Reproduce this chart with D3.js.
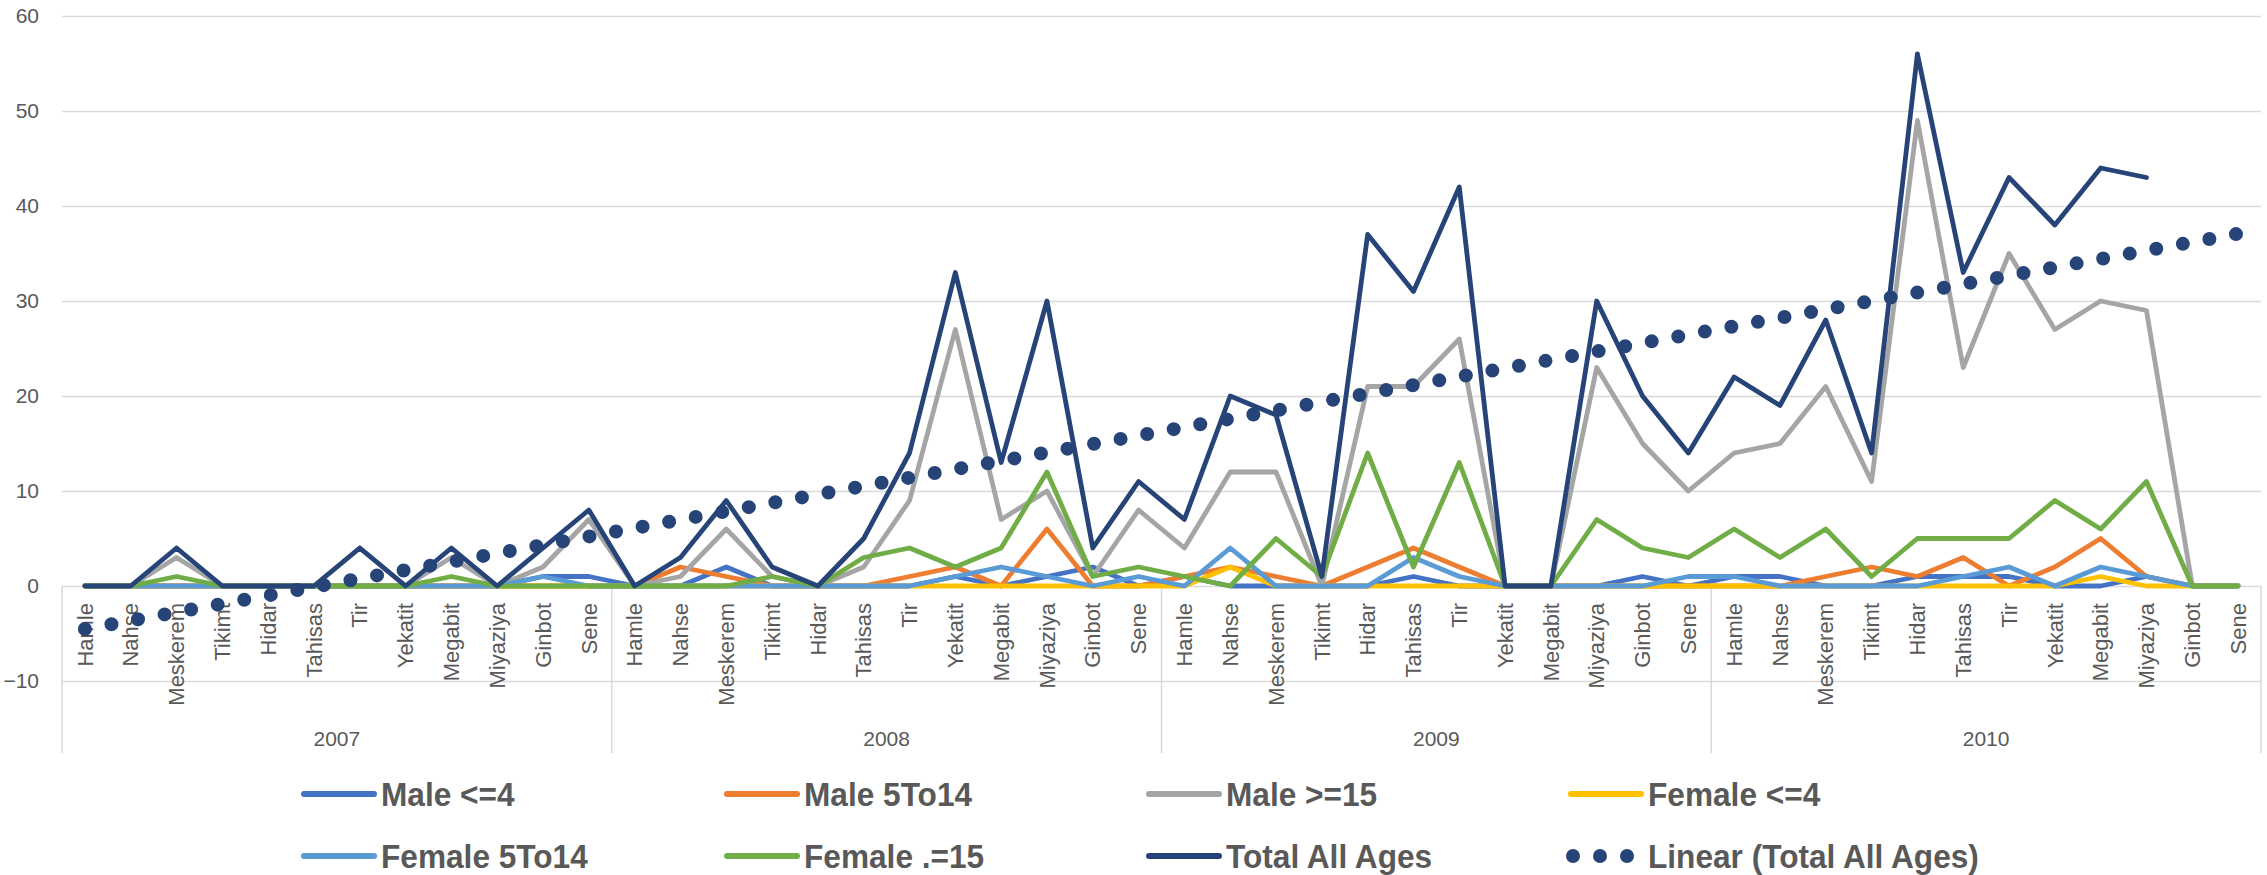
<!DOCTYPE html>
<html>
<head>
<meta charset="utf-8">
<script src="https://cdn.jsdelivr.net/npm/d3@7"></script>
<style>
  body { margin: 0; background: #fff; }
  text { font-family: "Liberation Sans", Arial, sans-serif; fill: #595959; }
</style>
</head>
<body>
<div id="chart"></div>
<script>
const width = 2267;
const height = 875;

// categories
const years = ["2007", "2008", "2009", "2010"];
const months = ["Hamle", "Nahse", "Meskerem", "Tikimt", "Hidar", "Tahisas",
  "Tir", "Yekatit", "Megabit", "Miyaziya", "Ginbot", "Sene"];
const yTicks = [-10, 0, 10, 20, 30, 40, 50, 60];

// series values, 48 months each (2007 Hamle .. 2010 Sene)
const maleU4 = [
  0, 0, 0, 0, 0, 0, 0, 0, 0, 0, 1, 1,
  0, 0, 2, 0, 0, 0, 0, 1, 0, 1, 2, 0,
  1, 0, 0, 0, 0, 1, 0, 0, 0, 0, 1, 0,
  1, 1, 0, 0, 1, 1, 1, 0, 0, 1, 0, 0];
const male5to14 = [
  0, 0, 0, 0, 0, 0, 0, 0, 0, 0, 0, 0,
  0, 2, 1, 0, 0, 0, 1, 2, 0, 6, 0, 0,
  1, 2, 1, 0, 2, 4, 2, 0, 0, 0, 0, 0,
  0, 0, 1, 2, 1, 3, 0, 2, 5, 1, 0, 0];
const maleO15 = [
  0, 0, 3, 0, 0, 0, 4, 0, 3, 0, 2, 7,
  0, 1, 6, 1, 0, 2, 9, 27, 7, 10, 1, 8,
  4, 12, 12, 0, 21, 21, 26, 0, 0, 23, 15, 10,
  14, 15, 21, 11, 49, 23, 35, 27, 30, 29, 0, 0];
const femaleU4 = [
  0, 0, 0, 0, 0, 0, 0, 0, 0, 0, 0, 0,
  0, 0, 0, 0, 0, 0, 0, 0, 0, 0, 0, 0,
  0, 2, 0, 0, 0, 0, 0, 0, 0, 0, 0, 0,
  0, 0, 0, 0, 0, 0, 0, 0, 1, 0, 0, 0];
const female5to14 = [
  0, 0, 0, 0, 0, 0, 0, 0, 0, 0, 1, 0,
  0, 0, 0, 0, 0, 0, 0, 1, 2, 1, 0, 1,
  0, 4, 0, 0, 0, 3, 1, 0, 0, 0, 0, 1,
  1, 0, 0, 0, 0, 1, 2, 0, 2, 1, 0, 0];
const femaleO15 = [
  0, 0, 1, 0, 0, 0, 0, 0, 1, 0, 0, 0,
  0, 0, 0, 1, 0, 3, 4, 2, 4, 12, 1, 2,
  1, 0, 5, 1, 14, 2, 13, 0, 0, 7, 4, 3,
  6, 3, 6, 1, 5, 5, 5, 9, 6, 11, 0, 0];
const totalAll = [
  0, 0, 4, 0, 0, 0, 4, 0, 4, 0, 4, 8,
  0, 3, 9, 2, 0, 5, 14, 33, 13, 30, 4, 11,
  7, 20, 18, 1, 37, 31, 42, 0, 0, 30, 20, 14,
  22, 19, 28, 14, 56, 33, 43, 38, 44, 43, null, null];

const series = [
  { name: "Male <=4", values: maleU4, color: "#4472C4" },
  { name: "Male 5To14", values: male5to14, color: "#ED7D31" },
  { name: "Male >=15", values: maleO15, color: "#A5A5A5" },
  { name: "Female <=4", values: femaleU4, color: "#FFC000" },
  { name: "Female 5To14", values: female5to14, color: "#5B9BD5" },
  { name: "Female .=15", values: femaleO15, color: "#70AD47" },
  { name: "Total All Ages", values: totalAll, color: "#264478" }
];

const keys = [];
years.forEach(y => months.forEach(m => keys.push(y + "|" + m)));

const svg = d3.select("#chart").append("svg")
  .attr("width", width)
  .attr("height", height);

const left = 62, right = 2261;
const x = d3.scaleBand().domain(keys).range([left, right]).padding(0);
const y = d3.scaleLinear().domain([-10, 60]).range([681, 16]);
const cx = i => x(keys[i]) + x.bandwidth() / 2;

// gridlines + y labels
const yAxis = svg.append("g")
  .attr("transform", `translate(${left},0)`)
  .call(d3.axisLeft(y).tickValues(yTicks).tickSize(-(right - left)).tickPadding(23));
yAxis.select(".domain").remove();
yAxis.selectAll("line").attr("stroke", "#d9d9d9").attr("stroke-width", 1.5);
yAxis.selectAll("text").style("font-size", "21px").attr("fill", "#595959");

// category axis: year separators, month and year labels
const sepX = d3.range(0, keys.length + 1, 12).map(i => i < keys.length ? x(keys[i]) : right);
svg.append("g").selectAll("line")
  .data(sepX)
  .enter().append("line")
  .attr("x1", d => d).attr("x2", d => d)
  .attr("y1", y(0)).attr("y2", 753)
  .attr("stroke", "#d9d9d9").attr("stroke-width", 1.5);

svg.append("g").selectAll("text")
  .data(keys)
  .enter().append("text")
  .attr("transform", (d, i) => `translate(${cx(i)},603) rotate(-90)`)
  .attr("text-anchor", "end")
  .attr("dy", "0.35em")
  .style("font-size", "22px")
  .text(d => d.split("|")[1]);

svg.append("g").selectAll("text")
  .data(years)
  .enter().append("text")
  .attr("x", (d, i) => (sepX[i] + sepX[i + 1]) / 2)
  .attr("y", 739)
  .attr("dy", "0.35em")
  .attr("text-anchor", "middle")
  .style("font-size", "21px")
  .text(d => d);

// series lines
const line = d3.line()
  .defined(d => d != null)
  .x((d, i) => cx(i))
  .y(d => y(d));

svg.append("g").selectAll("path")
  .data(series)
  .enter().append("path")
  .attr("d", d => line(d.values))
  .attr("fill", "none")
  .attr("stroke", d => d.color)
  .attr("stroke-width", 4.8)
  .attr("stroke-linejoin", "round")
  .attr("stroke-linecap", "round");

// linear trend of Total All Ages (least squares on x = 1..n)
const pts = totalAll.map((v, i) => [i + 1, v]).filter(p => p[1] != null);
const mx = d3.mean(pts, p => p[0]), my = d3.mean(pts, p => p[1]);
const slope = d3.sum(pts, p => (p[0] - mx) * (p[1] - my)) / d3.sum(pts, p => (p[0] - mx) ** 2);
const icpt = my - slope * mx;
const trend = keys.map((k, i) => icpt + slope * (i + 1));

svg.append("path")
  .attr("d", line(trend))
  .attr("fill", "none")
  .attr("stroke", "#264478")
  .attr("stroke-width", 14)
  .attr("stroke-linecap", "round")
  .attr("stroke-dasharray", "0 27");

// legend
const legendItems = series.concat([{ name: "Linear (Total All Ages)", color: "#264478", trend: true }]);
const colX = [304, 727, 1149, 1571];
const rowY = [794, 856];
const lg = svg.append("g").selectAll("g")
  .data(legendItems)
  .enter().append("g")
  .attr("transform", (d, i) => `translate(${colX[i % 4]},${rowY[Math.floor(i / 4)]})`);

lg.filter(d => !d.trend).append("line")
  .attr("x1", 0).attr("x2", 70)
  .attr("stroke", d => d.color)
  .attr("stroke-width", 6)
  .attr("stroke-linecap", "round");

lg.filter(d => d.trend).selectAll("circle")
  .data(d3.range(3))
  .enter().append("circle")
  .attr("cx", d => 2 + d * 27)
  .attr("r", 7)
  .attr("fill", "#264478");

// narrower bold text, like the condensed legend font
lg.append("text")
  .attr("transform", "translate(77,0) scale(0.93,1)")
  .attr("dy", "0.36em")
  .style("font-size", "34px")
  .style("font-weight", "bold")
  .text(d => d.name);
</script>
</body>
</html>
